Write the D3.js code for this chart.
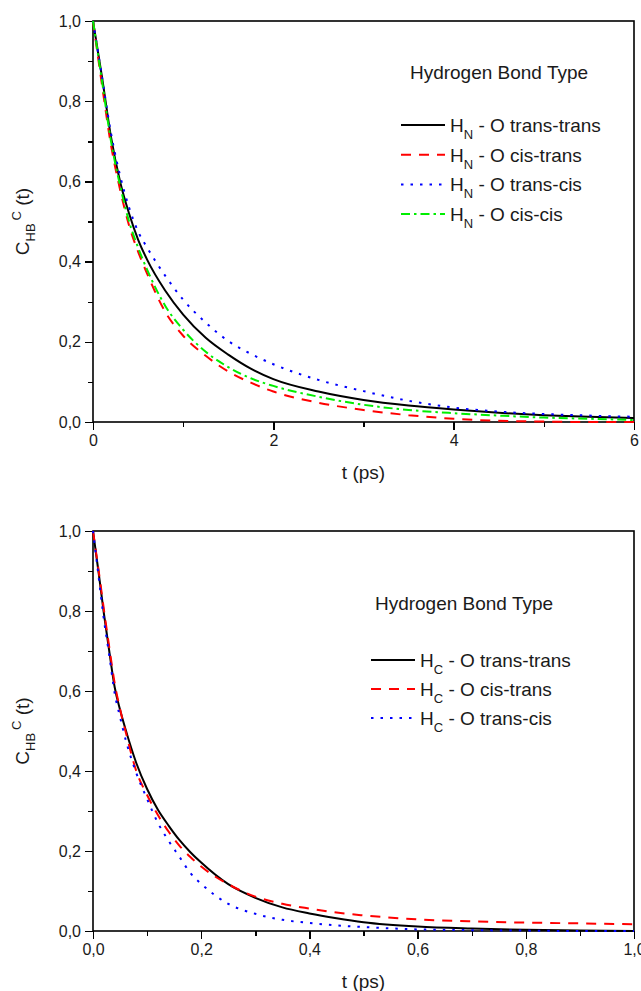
<!DOCTYPE html>
<meta charset="utf-8">
<style>
body { margin: 0; background: #fff; font-family: Arial, 'Liberation Sans', sans-serif; }
text { fill: #1a1a1a; }
.frame { fill: none; stroke: #000; stroke-width: 1.6px; }
.axis .domain { display: none; }
.axis line { stroke: #000; stroke-width: 1.4px; shape-rendering: crispEdges; }
.axis text { font-size: 16px; fill: #1a1a1a; }
.curve { fill: none; stroke-width: 2px; }
.axis-title { font-size: 19px; text-anchor: middle; }
.legend text { font-size: 19px; }
</style>
<svg width="641" height="991"></svg>
<script src="https://d3js.org/d3.v7.min.js"></script>
<script>
// ---- top panel: H_N - O ----
var topTime = [0, 0.1, 0.2, 0.3, 0.4, 0.5, 0.6, 0.8, 1.0, 1.25, 1.5, 1.75, 2.0, 2.5, 3.0, 3.5, 4.0, 4.5, 5.0, 5.5, 6.0];
var topTransTrans = [1, 0.86, 0.71, 0.60, 0.52, 0.455, 0.405, 0.328, 0.268, 0.21, 0.168, 0.133, 0.107, 0.076, 0.055, 0.041, 0.031, 0.023, 0.017, 0.013, 0.01];
var topCisTrans   = [1, 0.84, 0.69, 0.58, 0.49, 0.425, 0.37, 0.275, 0.215, 0.165, 0.126, 0.098, 0.076, 0.048, 0.03, 0.017, 0.008, 0.003, 0.001, 0, 0];
var topTransCis   = [1, 0.86, 0.72, 0.615, 0.535, 0.475, 0.435, 0.365, 0.305, 0.248, 0.202, 0.17, 0.144, 0.105, 0.077, 0.053, 0.036, 0.026, 0.02, 0.016, 0.013];
var topCisCis     = [1, 0.85, 0.70, 0.59, 0.50, 0.435, 0.38, 0.29, 0.23, 0.175, 0.137, 0.109, 0.09, 0.063, 0.043, 0.03, 0.022, 0.016, 0.011, 0.008, 0.005];
var topLabels = ["trans-trans", "cis-trans", "trans-cis", "cis-cis"];
var topXTicks = [0, 2, 4, 6];

// ---- bottom panel: H_C - O ----
var botTime = [0, 0.01, 0.02, 0.03, 0.04, 0.05, 0.06, 0.08, 0.1, 0.12, 0.14, 0.16, 0.18, 0.2, 0.25, 0.3, 0.35, 0.4, 0.45, 0.5, 0.6, 0.7, 0.8, 0.9, 1.0];
var botTransTrans = [1, 0.90, 0.795, 0.70, 0.61, 0.553, 0.505, 0.42, 0.355, 0.303, 0.263, 0.227, 0.197, 0.171, 0.117, 0.083, 0.059, 0.044, 0.032, 0.022, 0.011, 0.006, 0.003, 0.001, 0];
var botCisTrans   = [1, 0.905, 0.805, 0.71, 0.62, 0.555, 0.50, 0.40, 0.34, 0.29, 0.248, 0.213, 0.185, 0.161, 0.117, 0.086, 0.068, 0.056, 0.046, 0.039, 0.029, 0.024, 0.021, 0.019, 0.017];
var botTransCis   = [1, 0.89, 0.78, 0.69, 0.595, 0.535, 0.48, 0.395, 0.33, 0.27, 0.225, 0.185, 0.145, 0.118, 0.068, 0.043, 0.028, 0.02, 0.014, 0.01, 0.004, 0.002, 0.001, 0, 0];
var botLabels = ["trans-trans", "cis-trans", "trans-cis"];
var botXTicks = [0, 0.2, 0.4, 0.6, 0.8, 1.0];

var yTicks = [0, 0.2, 0.4, 0.6, 0.8, 1.0];

var styles = [
  { color: "#000000", dash: null },
  { color: "#ff0000", dash: "10,8" },
  { color: "#0000ff", dash: "2.5,7" },
  { color: "#00ee00", dash: "9,4,2.5,4" }
];

var svg = d3.select("svg");
var comma = function(f) { return function(d) { return d3.format(f)(d).replace(".", ","); }; };

function drawPanel(opt) {
  var m = opt.box;
  var x = d3.scaleLinear().domain(opt.xDomain).range([m.left, m.right]);
  var y = d3.scaleLinear().domain([0, 1]).range([m.bottom, m.top]);
  var g = svg.append("g");

  // minor ticks
  g.append("g").attr("class", "axis")
      .attr("transform", "translate(0," + m.bottom + ")")
      .call(d3.axisBottom(x).tickValues(opt.minorX).tickSize(5).tickFormat(""));
  g.append("g").attr("class", "axis")
      .attr("transform", "translate(" + m.left + ",0)")
      .call(d3.axisLeft(y).tickValues([0.1, 0.3, 0.5, 0.7, 0.9]).tickSize(5).tickFormat(""));

  // major ticks
  g.append("g").attr("class", "axis")
      .attr("transform", "translate(0," + m.bottom + ")")
      .call(d3.axisBottom(x).tickValues(opt.xTicks).tickSize(8).tickPadding(5).tickFormat(opt.xFormat));
  g.append("g").attr("class", "axis")
      .attr("transform", "translate(" + m.left + ",0)")
      .call(d3.axisLeft(y).tickValues(yTicks).tickSize(8).tickPadding(4).tickFormat(comma(".1f")));

  g.append("rect").attr("class", "frame")
      .attr("x", m.left).attr("y", m.top)
      .attr("width", m.right - m.left).attr("height", m.bottom - m.top);

  var line = d3.line()
      .x(function(d) { return x(d[0]); })
      .y(function(d) { return y(d[1]); })
      .curve(d3.curveMonotoneX);

  opt.series.forEach(function(s, i) {
    g.append("path").attr("class", "curve")
        .datum(d3.zip(opt.time, s))
        .attr("stroke", styles[i].color)
        .attr("stroke-dasharray", styles[i].dash)
        .attr("d", line);
  });

  // axis titles
  g.append("text").attr("class", "axis-title")
      .attr("x", (m.left + m.right) / 2).attr("y", m.bottom + 57)
      .text("t (ps)");

  var yl = g.append("text").attr("class", "axis-title")
      .attr("transform", "translate(29," + ((m.top + m.bottom) / 2) + ") rotate(-90)");
  yl.append("tspan").text("C");
  yl.append("tspan").attr("dy", 6).style("font-size", "13px").text("HB");
  yl.append("tspan").attr("dy", -14).attr("dx", 3).style("font-size", "13px").text("C");
  yl.append("tspan").attr("dy", 8).text(" (t)");

  // legend
  var L = opt.legend;
  var lg = g.append("g").attr("class", "legend");
  lg.append("text").attr("x", L.titleX).attr("y", L.titleY + 7)
      .attr("text-anchor", "middle").text("Hydrogen Bond Type");
  opt.labels.forEach(function(lab, i) {
    var yy = L.rowY + i * L.rowStep;
    lg.append("line")
        .attr("x1", L.lineX).attr("x2", L.lineX + 44)
        .attr("y1", yy).attr("y2", yy)
        .attr("stroke", styles[i].color).attr("stroke-width", 2)
        .attr("stroke-dasharray", styles[i].dash);
    var t = lg.append("text").attr("x", L.lineX + 49).attr("y", yy + 7);
    t.append("tspan").text("H");
    t.append("tspan").attr("dy", 7).style("font-size", "13px").text(opt.sub);
    t.append("tspan").attr("dy", -7).text(" - O " + lab);
  });
}

drawPanel({
  box: { left: 93, right: 634, top: 21, bottom: 422 },
  xDomain: [0, 6], xTicks: topXTicks, minorX: [1, 3, 5],
  xFormat: d3.format("d"),
  time: topTime,
  series: [topTransTrans, topCisTrans, topTransCis, topCisCis],
  labels: topLabels, sub: "N",
  legend: { titleX: 499, titleY: 72, lineX: 401, rowY: 125, rowStep: 29.7 }
});

drawPanel({
  box: { left: 93, right: 634, top: 531, bottom: 931 },
  xDomain: [0, 1], xTicks: botXTicks, minorX: [0.1, 0.3, 0.5, 0.7, 0.9],
  xFormat: comma(".1f"),
  time: botTime,
  series: [botTransTrans, botCisTrans, botTransCis],
  labels: botLabels, sub: "C",
  legend: { titleX: 464, titleY: 603, lineX: 371, rowY: 660, rowStep: 29 }
});
</script>
